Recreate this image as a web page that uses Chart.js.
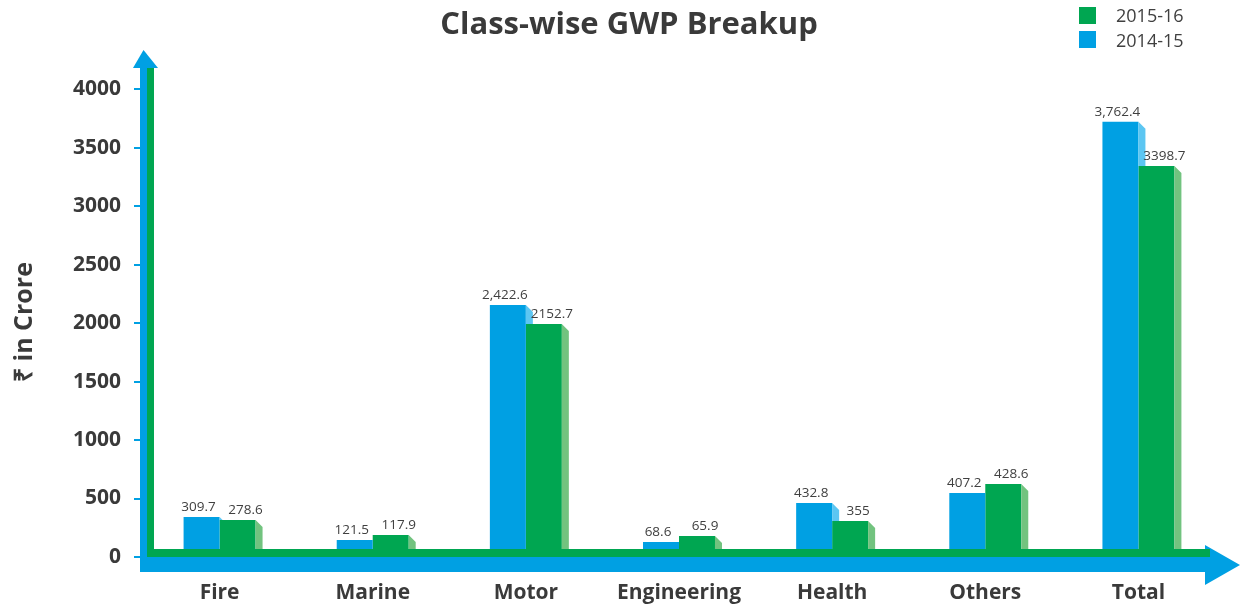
<!DOCTYPE html>
<html>
<head>
<meta charset="utf-8">
<script src="https://cdn.jsdelivr.net/npm/chart.js@4.4.0/dist/chart.umd.min.js"></script>
<style>
html, body { margin: 0; padding: 0; background: #fff; }
#wrap { position: relative; width: 1245px; height: 609px; }
#title { position: absolute; left: 0; top: 1px; width: 1258px; text-align: center;
         font: bold 31px "Open Sans", sans-serif; color: #3a3a3a; }
.sw { position: absolute; left: 1079px; width: 17px; height: 17px; }
.lt { position: absolute; left: 1116px; font: 18px "Open Sans", sans-serif; color: #404040; line-height: 18px; }
</style>
</head>
<body>
<div id="wrap">
  <canvas id="gwp" width="1245" height="609"></canvas>
  <div id="title">Class-wise GWP Breakup</div>
  <div class="sw" style="top:7px;background:#00a651"></div>
  <div class="lt" style="top:6px">2015-16</div>
  <div class="sw" style="top:31px;background:#00a0e3"></div>
  <div class="lt" style="top:31px">2014-15</div>
</div>
<script>
// categories and series (bar heights as drawn, printed labels as shown)
var categories = ["Fire", "Marine", "Motor", "Engineering", "Health", "Others", "Total"];
var bars1415 = [342, 145, 2154, 128, 462, 547, 3720];
var bars1516 = [316, 188, 1991, 179, 308, 624, 3342];
var text1415 = ["309.7", "121.5", "2,422.6", "68.6", "432.8", "407.2", "3,762.4"];
var text1516 = ["278.6", "117.9", "2152.7", "65.9", "355", "428.6", "3398.7"];
var yTicks = [0, 500, 1000, 1500, 2000, 2500, 3000, 3500, 4000];
var yMax = 4180;
var yTitle = "₹ in Crore";

var blue = "#00a0e3", green = "#00a651";
var blueSide = "#5cc6f2", greenSide = "#72c37f";

// 3d side faces, value labels, axis title and the arrow axes
var decor = {
    id: "decor",
    afterDatasetsDraw: function(chart) {
        var ctx = chart.ctx;
        var area = chart.chartArea;
        var m0 = chart.getDatasetMeta(0).data;
        var m1 = chart.getDatasetMeta(1).data;
        var d = 7;

        function side(bar, color) {
            var r = bar.x + bar.width / 2;
            ctx.fillStyle = color;
            ctx.beginPath();
            ctx.moveTo(r, bar.y);
            ctx.lineTo(r + d, bar.y + d);
            ctx.lineTo(r + d, bar.base);
            ctx.lineTo(r, bar.base);
            ctx.closePath();
            ctx.fill();
        }

        for (var i = 0; i < m0.length; i++) {
            // blue side only shows above the green bar
            ctx.save();
            ctx.beginPath();
            ctx.rect(0, 0, chart.width, m1[i].y);
            ctx.clip();
            side(m0[i], blueSide);
            ctx.restore();
            side(m1[i], greenSide);
        }

        // axes
        var L = area.left, R = area.right, B = area.bottom;
        ctx.fillStyle = blue;
        ctx.fillRect(L - 3, area.top, 7, B + 15 - area.top);
        ctx.fillRect(L - 3, B, R - 5 - (L - 3), 15);
        ctx.beginPath();
        ctx.moveTo(L - 10, area.top);
        ctx.lineTo(L + 0.5, area.top - 18);
        ctx.lineTo(L + 15, area.top);
        ctx.closePath();
        ctx.fill();
        ctx.beginPath();
        ctx.moveTo(R - 10, B - 12);
        ctx.lineTo(R + 25, B + 8);
        ctx.lineTo(R - 10, B + 28);
        ctx.closePath();
        ctx.fill();
        ctx.fillStyle = green;
        ctx.fillRect(L + 4, area.top, 7, B - area.top);
        ctx.fillRect(L + 4, B - 8, R - 5 - (L + 4), 8);

        // value labels
        ctx.font = "13.5px 'Open Sans', sans-serif";
        ctx.fillStyle = "#404040";
        ctx.textAlign = "center";
        ctx.textBaseline = "bottom";
        for (var j = 0; j < m0.length; j++) {
            ctx.fillText(text1415[j], m0[j].x - 3, m0[j].y - 3);
            ctx.fillText(text1516[j], m1[j].x + 8, m1[j].y - 3);
        }

        // y axis title
        ctx.save();
        ctx.translate(25, 322);
        ctx.rotate(-Math.PI / 2);
        ctx.font = "bold 25px 'Open Sans', sans-serif";
        ctx.fillStyle = "#3a3a3a";
        ctx.textBaseline = "middle";
        ctx.fillText(yTitle, 0, 0);
        ctx.restore();
    }
};

var chart = new Chart(document.getElementById("gwp"), {
    type: "bar",
    data: {
        labels: categories,
        datasets: [
            { label: "2014-15", data: bars1415, backgroundColor: blue },
            { label: "2015-16", data: bars1516, backgroundColor: green }
        ]
    },
    options: {
        responsive: false,
        animation: false,
        layout: { padding: { top: 68, right: 30, left: 0, bottom: 0 } },
        datasets: { bar: { barPercentage: 1, categoryPercentage: 0.47 } },
        plugins: {
            legend: { display: false },
            tooltip: { enabled: false }
        },
        scales: {
            x: {
                grid: { display: false, drawTicks: false },
                border: { display: false },
                ticks: { color: "#3a3a3a", padding: 23, font: { family: "Open Sans", size: 21, weight: "bold" } },
                afterFit: function(s) { s.height = 52; }
            },
            y: {
                min: 0,
                max: yMax,
                grid: { drawOnChartArea: false, tickLength: 9, lineWidth: 2, color: blue },
                border: { display: false },
                ticks: {
                    autoSkip: false,
                    color: "#3a3a3a",
                    padding: 13,
                    font: { family: "Open Sans", size: 21, weight: "bold" },
                    callback: function(v) { return String(v); }
                },
                afterBuildTicks: function(s) {
                    s.ticks = yTicks.map(function(v) { return { value: v }; });
                },
                afterFit: function(s) { s.width = 143; }
            }
        }
    },
    plugins: [decor]
});
</script>
</body>
</html>
